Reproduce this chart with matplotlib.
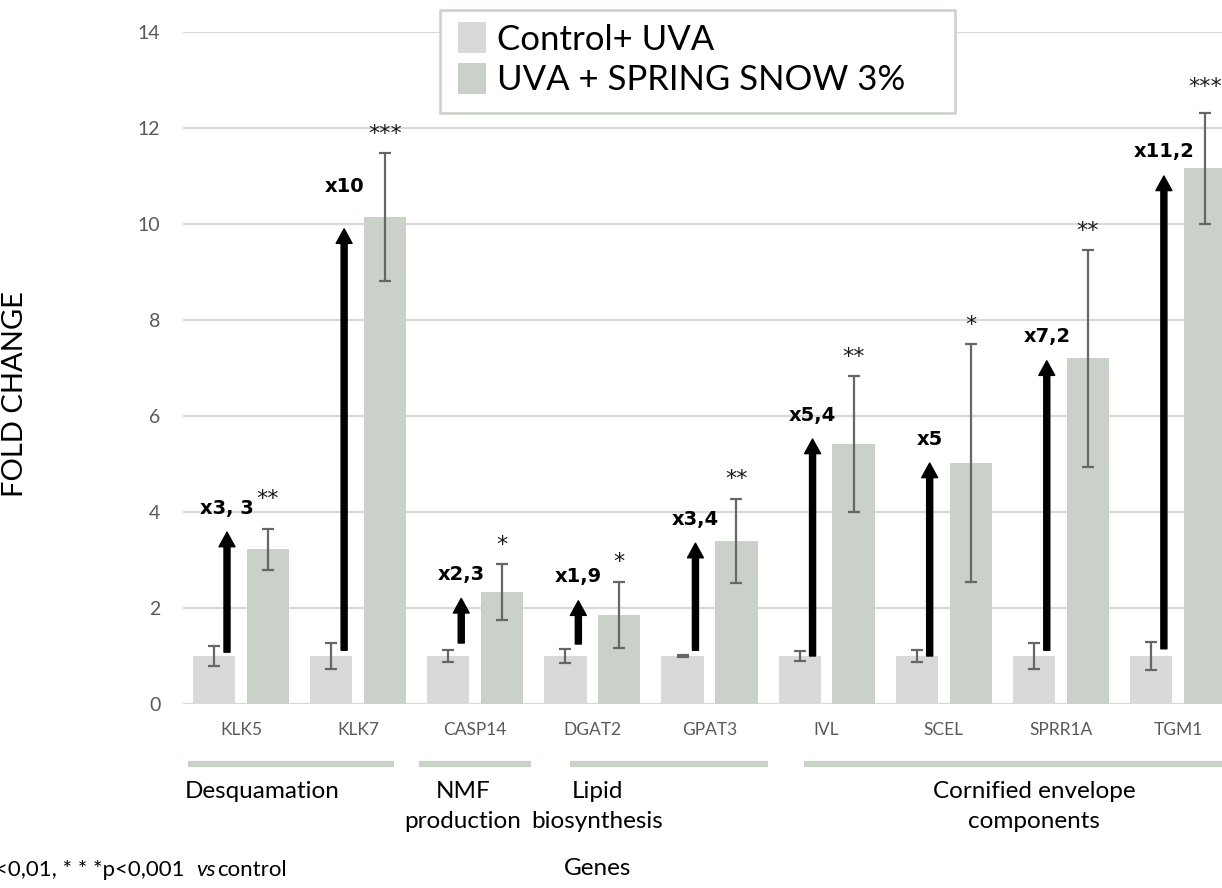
import numpy as np
import matplotlib
matplotlib.use("Agg")
import matplotlib.pyplot as plt
from matplotlib.patches import Patch, Rectangle

# values
genes = ["KLK5", "KLK7", "CASP14", "DGAT2", "GPAT3", "IVL", "SCEL", "SPRR1A", "TGM1"]
control = [1, 1, 1, 1, 1, 1, 1, 1, 1]
control_err = [0.2, 0.28, 0.12, 0.15, 0.02, 0.1, 0.12, 0.27, 0.3]
treated = [3.22, 10.15, 2.33, 1.86, 3.4, 5.42, 5.02, 7.2, 11.16]
treated_err = [0.43, 1.33, 0.58, 0.69, 0.88, 1.41, 2.47, 2.26, 1.15]
stars = ["**", "***", "*", "*", "**", "**", "*", "**", "***"]
fold_labels = ["x3, 3", "x10", "x2,3", "x1,9", "x3,4", "x5,4", "x5", "x7,2", "x11,2"]
arrow_start = [1.08, 1.12, 1.27, 1.25, 1.12, 1.0, 1.0, 1.12, 1.15]
arrow_end = [3.58, 9.9, 2.2, 2.15, 3.35, 5.52, 5.02, 7.15, 11.0]
groups = ["Desquamation", "NMF\nproduction", "Lipid\nbiosynthesis", "Cornified envelope\ncomponents"]
group_members = [(0, 1), (2, 2), (3, 4), (5, 8)]
legend_labels = ["Control+ UVA", "UVA + SPRING SNOW 3%"]

C_CTRL = "#d9d9d9"
C_TRT = "#c9d1c8"
C_ERR = "#666666"
FONT = "Lato"

W, H = 1222, 888
fig = plt.figure(figsize=(W / 100, H / 100), dpi=100)
ax = fig.add_axes([182.5 / W, 184 / H, 1054 / W, 672 / H])

x = np.arange(len(genes))
bw = 0.36
off = 0.23
ax.bar(x - off, control, bw, color=C_CTRL, zorder=2)
ax.bar(x + off, treated, bw, color=C_TRT, zorder=2)
ax.errorbar(x - off, control, yerr=control_err, fmt="none", ecolor=C_ERR,
            elinewidth=1.6, capsize=4.5, capthick=1.6, zorder=3)
ax.errorbar(x + off, treated, yerr=treated_err, fmt="none", ecolor=C_ERR,
            elinewidth=1.6, capsize=4.5, capthick=1.6, zorder=3)

ax.set_xlim(-0.5, len(genes) - 0.5)
ax.set_ylim(0, 14)
ax.set_yticks(range(0, 15, 2))
ax.set_xticks(x)
ax.set_xticklabels(genes, fontfamily=FONT, fontsize=12.5, color="#595959")
ax.tick_params(axis="y", labelsize=14, labelcolor="#595959", length=0, pad=16)
ax.tick_params(axis="x", length=0, pad=13)
for lab in ax.get_yticklabels():
    lab.set_fontfamily(FONT)
ax.grid(axis="y", color="#d9d9d9", lw=1.6, zorder=0)
ax.set_axisbelow(True)
for s in ax.spines.values():
    s.set_visible(False)

# significance stars above the treated bars
for i in range(len(genes)):
    top = treated[i] + treated_err[i]
    dy = 0.62 if i == 0 else (0.55 if i == 8 else 0.4)
    ax.text(x[i] + off, top + dy, stars[i], ha="center", va="center",
            fontsize=16, fontfamily="DejaVu Sans", color="#1a1a1a", clip_on=False)

# fold change arrows and labels
for i in range(len(genes)):
    ax.annotate("", xy=(x[i] - 0.12, arrow_end[i]), xytext=(x[i] - 0.12, arrow_start[i]),
                arrowprops=dict(arrowstyle="simple,head_width=0.82,head_length=0.75,tail_width=0.31",
                                mutation_scale=14, color="black", shrinkA=0, shrinkB=0),
                zorder=4)
    dy = 0.88 if i == 1 else 0.5
    ax.text(x[i] - 0.12, arrow_end[i] + dy, fold_labels[i], ha="center", va="center",
            fontsize=14, fontweight="bold", fontfamily="DejaVu Sans", color="black", zorder=5)

# group bars and names under the gene labels
pads = [(-0.45, 0.31), (-0.48, 0.48), (-0.19, 0.5), (-0.19, 0.6)]
label_x = [0.18, 1.895, 3.04, 6.77]
for (a, b), (pa, pb), name, lx in zip(group_members, pads, groups, label_x):
    ax.plot([a + pa, b + pb], [-1.25, -1.25], color=C_TRT, lw=4.5,
            solid_capstyle="butt", clip_on=False)
    ax.text(lx, -1.6, name, ha="center", va="top", fontsize=17.5,
            fontfamily=FONT, color="black", linespacing=1.55, clip_on=False)

ax.text(3.04, -3.43, "Genes", ha="center", va="center", fontsize=17.5,
        fontfamily=FONT, color="black", clip_on=False)
ax.set_ylabel("FOLD CHANGE", fontsize=21, fontfamily=FONT, color="black", labelpad=0)
ax.yaxis.set_label_coords(-(182.5 - 28) / 1054, (704 - 394) / 672)

# footnote, cut at left edge like the reference
fy = 1 - 870 / H
fig.text(287 / W, fy, "control", ha="right", va="center", fontsize=16, fontfamily=FONT)
fig.text(216 / W, fy, "vs", ha="right", va="center", fontsize=16, fontfamily=FONT, style="italic")
fig.text(185 / W, fy, "*p<0,05, **p<0,01, * * *p<0,001", ha="right", va="center",
         fontsize=16, fontfamily=FONT)

# legend box drawn wider than its content, as in the reference
fig.patches.append(Rectangle((440 / W, 1 - 113 / H), 515 / W, 103 / H,
                             transform=fig.transFigure, facecolor="white",
                             edgecolor=C_TRT, lw=1.8, zorder=3))
handles = [Patch(facecolor=C_CTRL, edgecolor="none"), Patch(facecolor=C_TRT, edgecolor="none")]
leg = fig.legend(handles, legend_labels, loc="upper left", bbox_to_anchor=(448 / W, 1 - 12 / H),
                 prop={"family": FONT, "size": 25}, frameon=False,
                 handlelength=0.8, handleheight=1.0, handletextpad=0.3,
                 labelspacing=0.2, borderpad=0.3, borderaxespad=0)
leg.set_zorder(5)

fig.savefig("out.png", dpi=100)
